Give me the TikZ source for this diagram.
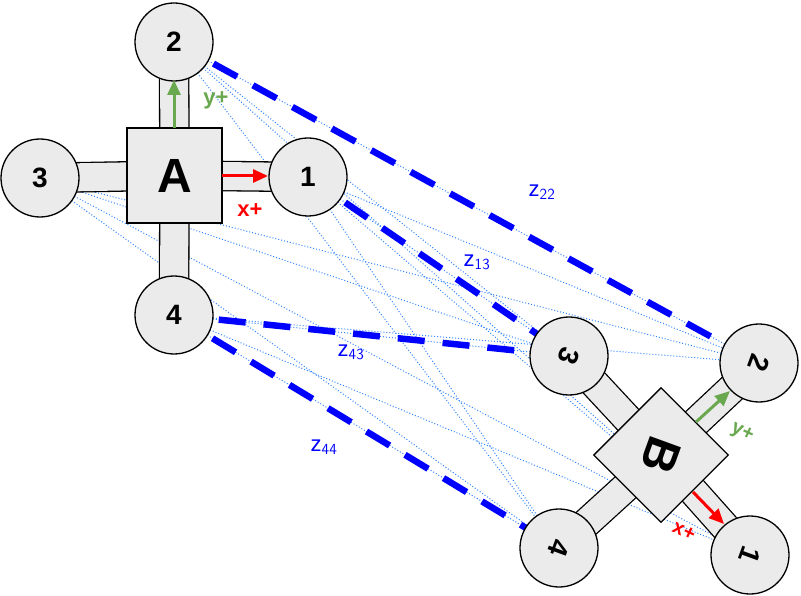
\documentclass[tikz,border=0pt]{standalone}
\usepackage{fontspec}
\setmainfont{Liberation Sans}
\usetikzlibrary{arrows.meta}
\definecolor{axgreen}{HTML}{6AA84F}
\begin{document}
\begin{tikzpicture}[x=1pt,y=-1pt]
\tikzstyle{wheel}=[circle, minimum size=78pt, inner sep=0pt, draw=black, line width=1.3pt, fill=black!8, font=\bfseries\fontsize{28}{28}\selectfont]
\tikzstyle{body}=[rectangle, minimum size=95pt, inner sep=0pt, draw=black, line width=1.3pt, fill=black!8, font=\bfseries\fontsize{48}{48}\selectfont]
\tikzstyle{arm}=[draw=black, line width=1.3pt, double=black!8, double distance=28pt]
\tikzstyle{link}=[blue!60!cyan!80!white, dotted, line width=1pt]
\tikzstyle{meas}=[blue, line width=6.5pt, dash pattern=on 27pt off 18pt]
\tikzstyle{zlab}=[text=blue, font=\fontsize{22}{22}\selectfont]
\tikzstyle{xax}=[-{Triangle[length=15pt,width=13pt]}, red, line width=3pt]
\tikzstyle{yax}=[-{Triangle[length=15pt,width=13pt]}, axgreen, line width=3pt]
\useasboundingbox (0,0) rectangle (801,596);

% robot A
\coordinate (A) at (174.5,175.5);
\coordinate (a1) at (308,177);
\coordinate (a2) at (174,42);
\coordinate (a3) at (40,178);
\coordinate (a4) at (174,315);
% robot B
\coordinate (B) at (661,455);
\coordinate (b1) at (750,555);
\coordinate (b2) at (759,363);
\coordinate (b3) at (569,356);
\coordinate (b4) at (559,548);

\foreach \i in {1,...,4}
  \foreach \j in {1,...,4}
    \draw[link] (a\i) -- (b\j);
\draw[meas] (a2) -- (b2);
\draw[meas] (a1) -- (b3);
\draw[meas] (a4) -- (b3);
\draw[meas] (a4) -- (b4);

\foreach \i in {1,...,4} {
  \draw[arm] (A) -- (a\i);
  \draw[arm] (B) -- (b\i);
}
\node[wheel] (w1) at (a1) {1};
\node[wheel] (w2) at (a2) {2};
\node[wheel] (w3) at (a3) {3};
\node[wheel] (w4) at (a4) {4};
\node[body] (bodyA) at (A) {A};
\foreach \i in {1,...,4}
  \node[wheel] (v\i) at (b\i) {\rotatebox{-110}{\i}};
\node[body, rotate=-45] (bodyB) at (B) {\rotatebox{-65}{B}};

\coordinate (ax0) at (222,176);
\coordinate (ax1) at (268,176);
\coordinate (ay0) at (174,128);
\coordinate (ay1) at (174,80);
\draw[xax] (ax0) -- (ax1);
\draw[yax] (ay0) -- (ay1);
\node[text=red, font=\bfseries\fontsize{22}{22}\selectfont] (xA) at (250,210) {x+};
\node[text=axgreen, font=\bfseries\fontsize{22}{22}\selectfont] (yA) at (216,100) {y+};
\coordinate (bx0) at (693,492);
\coordinate (bx1) at (724,524);
\coordinate (by0) at (696,422);
\coordinate (by1) at (730,391);
\draw[xax] (bx0) -- (bx1);
\draw[yax] (by0) -- (by1);
\node[text=red, rotate=-25, font=\bfseries\fontsize{20}{20}\selectfont] (xB) at (684,531) {x+};
\node[text=axgreen, rotate=-25, font=\bfseries\fontsize{20}{20}\selectfont] (yB) at (742,433) {y+};

\node[zlab] (z22) at (542,192) {z$_{\mathsf{22}}$};
\node[zlab] (z13) at (477,262) {z$_{\mathsf{13}}$};
\node[zlab] (z43) at (351,352) {z$_{\mathsf{43}}$};
\node[zlab] (z44) at (324,447) {z$_{\mathsf{44}}$};
\end{tikzpicture}
\end{document}
